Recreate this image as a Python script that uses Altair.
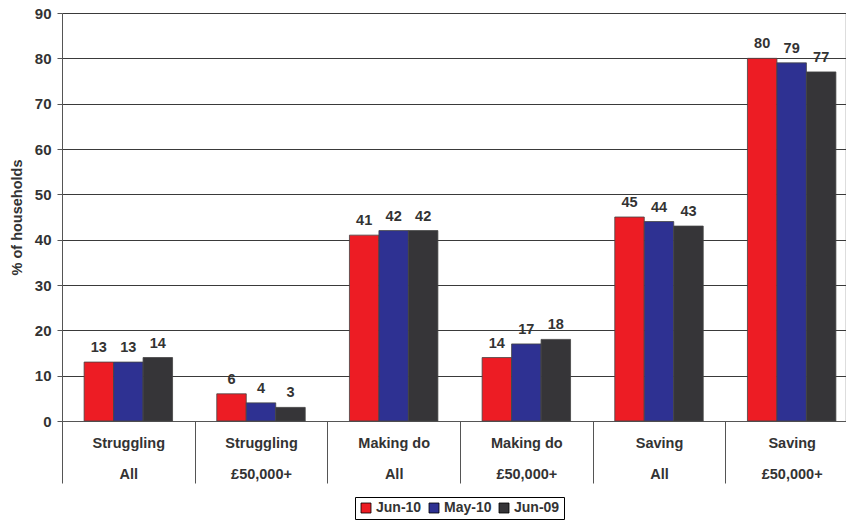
import altair as alt
import pandas as pd

categories = ["Struggling|All", "Struggling|£50,000+", "Making do|All",
              "Making do|£50,000+", "Saving|All", "Saving|£50,000+"]
series = ["Jun-10", "May-10", "Jun-09"]
jun10 = [13, 6, 41, 14, 45, 80]
may10 = [13, 4, 42, 17, 44, 79]
jun09 = [14, 3, 42, 18, 43, 77]
colors = ["#ED1C24", "#2E3192", "#363538"]

rows = []
for i, c in enumerate(categories):
    for s, vals in zip(series, [jun10, may10, jun09]):
        rows.append({"cat": c, "series": s, "value": vals[i]})
df = pd.DataFrame(rows)

FONT = "Liberation Sans"
TXT = "#333333"

x = alt.X("cat:N", sort=categories, title=None,
          scale=alt.Scale(paddingInner=0, paddingOuter=0, range=[0, 796]),
          axis=alt.Axis(labelExpr="split(datum.label, '|')", labelAngle=0,
                        tickBand="extent", tickSize=62, tickColor="#555555",
                        domainColor="#555555", labelPadding=-47,
                        labelBaseline="top", labelLineHeight=31,
                        labelFont=FONT, labelFontSize=14.5, labelFontWeight="bold",
                        labelColor=TXT))
xoff = alt.XOffset("series:N", sort=series,
                   scale=alt.Scale(paddingOuter=0.75, paddingInner=0))
y = alt.Y("value:Q", title="% of households",
          scale=alt.Scale(domain=[0, 90], nice=False),
          axis=alt.Axis(values=list(range(0, 91, 10)), tickSize=5,
                        tickColor="#555555", domainColor="#555555",
                        grid=True, gridColor="#3a3a3a", gridWidth=1,
                        labelFont=FONT, labelFontSize=15, labelFontWeight="bold",
                        labelColor=TXT, labelPadding=6,
                        titleFont=FONT, titleFontSize=14.5, titleFontWeight="bold",
                        titleColor=TXT, titlePadding=10))

color = alt.Color("series:N", sort=series,
                  scale=alt.Scale(domain=series, range=colors),
                  legend=alt.Legend(title=None, orient="none", legendX=293, legendY=484,
                                    direction="horizontal", strokeColor="#000000",
                                    padding=4, symbolType="square", symbolSize=100,
                                    symbolStrokeColor="#000000", symbolStrokeWidth=0.8,
                                    labelFont=FONT, labelFontSize=14, labelFontWeight="bold",
                                    labelColor=TXT, columnPadding=5, labelOffset=3))

base = alt.Chart(df)
bars = base.mark_bar(stroke="#444444", strokeWidth=0.8).encode(
    x=x, xOffset=xoff, y=y, color=color)
labels = base.mark_text(dy=-7, baseline="bottom", font=FONT, fontSize=14.5,
                        fontWeight="bold", color=TXT).encode(
    x=x, xOffset=xoff, y=y, text="value:Q")

chart = alt.layer(bars, labels).properties(
    width=783, height=408,
    autosize=alt.AutoSizeParams(type="none"),
    padding={"left": 62, "top": 13, "right": 1, "bottom": 99},
).configure_view(fill="#C0B6B4", stroke=None).configure(background="white")

chart.save("out.html", embed_options={"renderer": "svg", "actions": False})
